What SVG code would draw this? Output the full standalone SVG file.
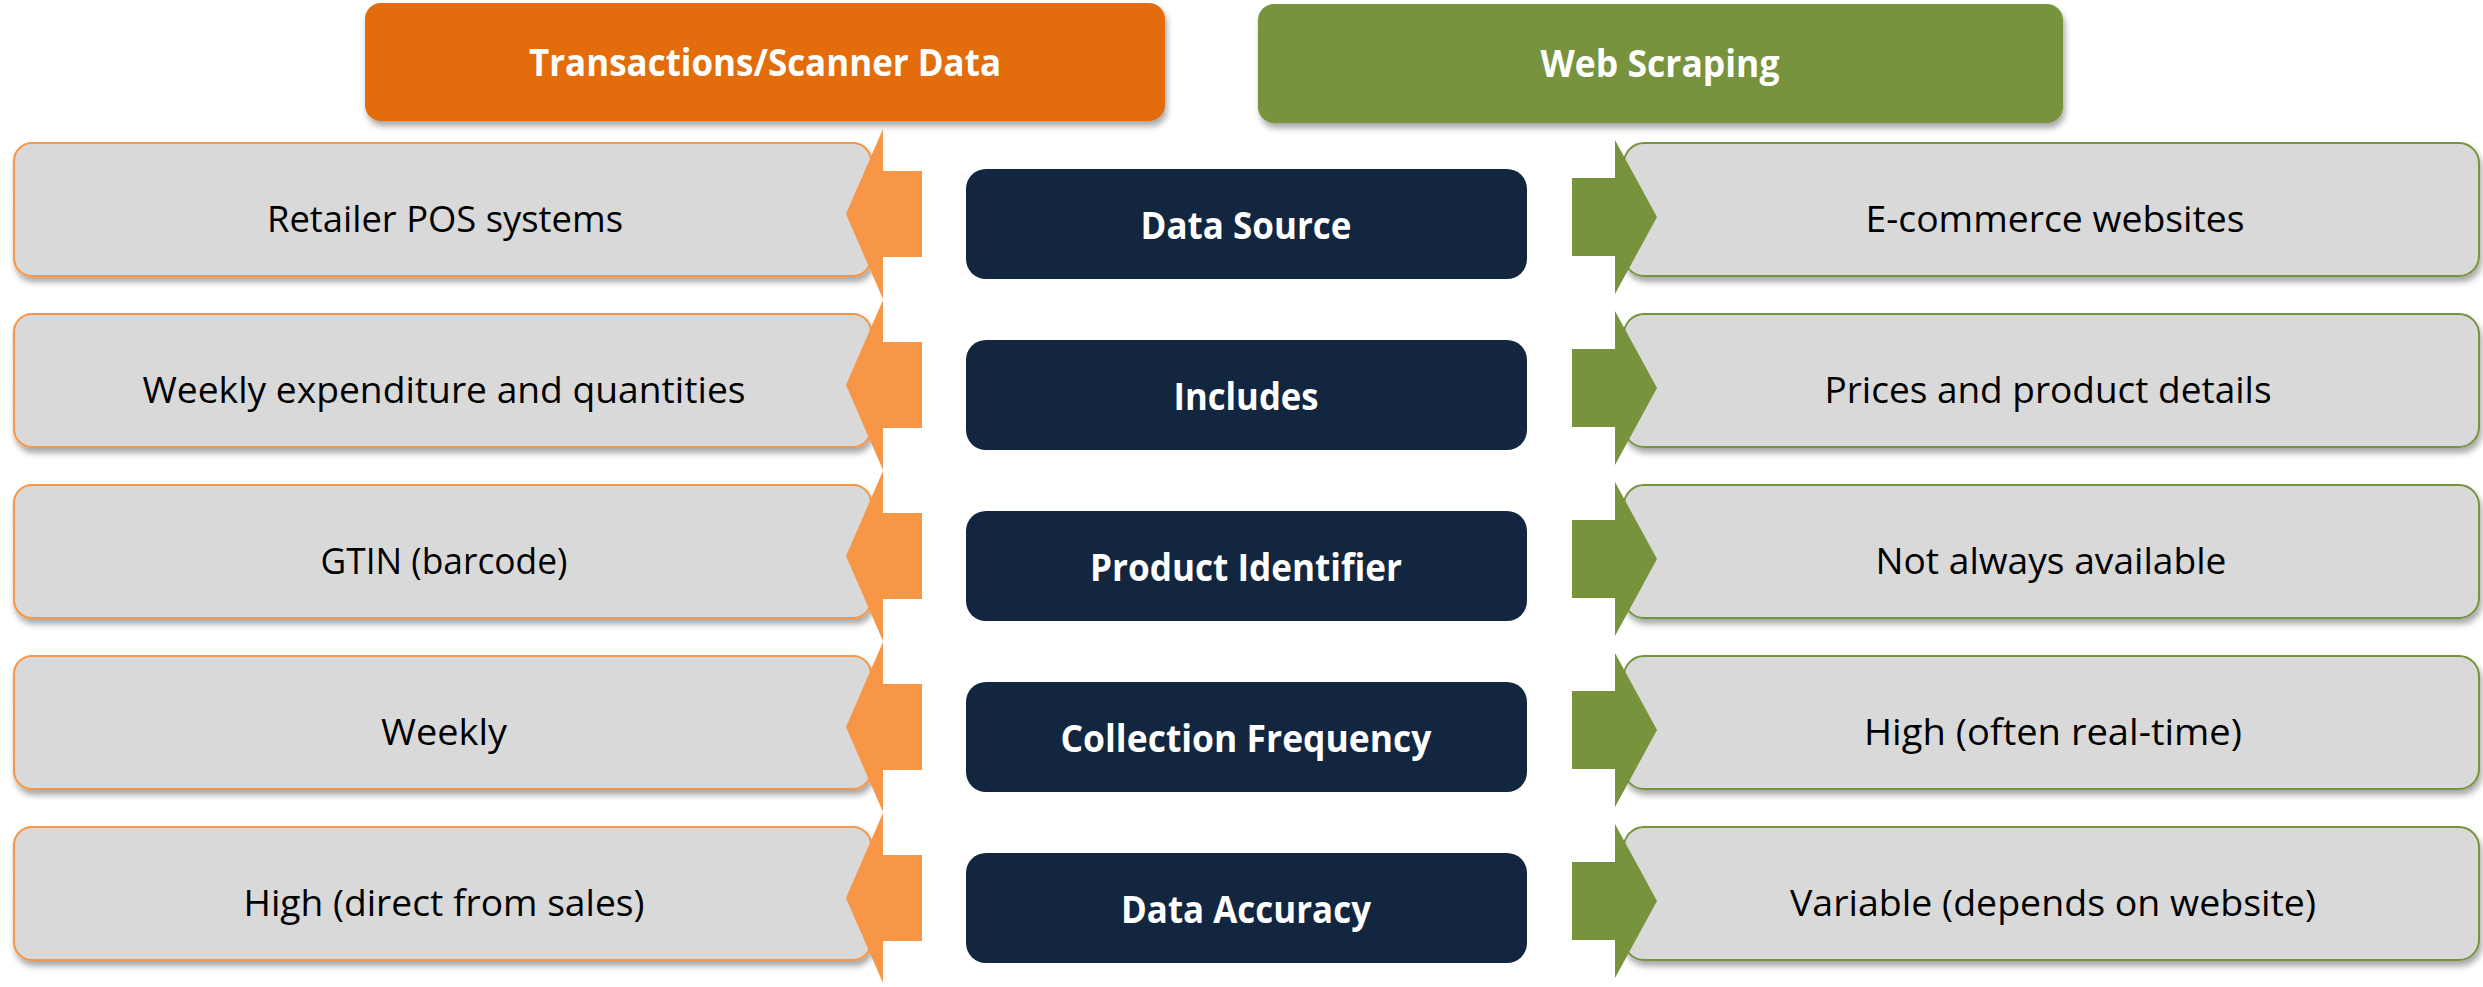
<svg xmlns="http://www.w3.org/2000/svg" width="2483" height="987" viewBox="0 0 2483 987">
<defs>
<filter id="sh" x="-5%" y="-10%" width="110%" height="130%">
<feGaussianBlur in="SourceAlpha" stdDeviation="3"/>
<feOffset dx="2" dy="5" result="b"/>
<feComponentTransfer><feFuncA type="linear" slope="0.35"/></feComponentTransfer>
<feMerge><feMergeNode/><feMergeNode in="SourceGraphic"/></feMerge>
</filter>
<style>
.t{font-family:"Open Sans","Noto Sans","Liberation Sans",sans-serif;font-size:36px;text-anchor:middle;}
.g{fill:#000;}
.w{fill:#fff;font-weight:bold;font-size:37px;}
.lb{fill:#D9D9D9;stroke:#F79646;stroke-width:2;}
.rb{fill:#D9D9D9;stroke:#77933C;stroke-width:2;}
.nv{fill:#13263F;}
.oa{fill:#F79646;}
.ga{fill:#77933C;}
</style>
</defs>
<rect width="2483" height="987" fill="#fff"/>

<g id="header-transactions">
<rect x="365" y="3" width="800" height="118" rx="16" fill="#E36C09" filter="url(#sh)"/>
<text class="t w" x="765" y="76" textLength="472" lengthAdjust="spacingAndGlyphs">Transactions/Scanner Data</text>
</g>
<g id="header-webscraping">
<rect x="1258" y="4" width="805" height="119" rx="16" fill="#77933C" filter="url(#sh)"/>
<text class="t w" x="1660" y="77" textLength="239" lengthAdjust="spacingAndGlyphs">Web Scraping</text>
</g>

<g id="left-1"><rect class="lb" x="14" y="143" width="857" height="133" rx="18" filter="url(#sh)"/>
<text class="t g" x="445" y="232" textLength="356" lengthAdjust="spacingAndGlyphs">Retailer POS systems</text></g>
<g id="left-2"><rect class="lb" x="14" y="314" width="857" height="133" rx="18" filter="url(#sh)"/>
<text class="t g" x="444" y="403" textLength="603" lengthAdjust="spacingAndGlyphs">Weekly expenditure and quantities</text></g>
<g id="left-3"><rect class="lb" x="14" y="485" width="857" height="133" rx="18" filter="url(#sh)"/>
<text class="t g" x="444" y="574" textLength="247" lengthAdjust="spacingAndGlyphs">GTIN (barcode)</text></g>
<g id="left-4"><rect class="lb" x="14" y="656" width="857" height="133" rx="18" filter="url(#sh)"/>
<text class="t g" x="444" y="745" textLength="126" lengthAdjust="spacingAndGlyphs">Weekly</text></g>
<g id="left-5"><rect class="lb" x="14" y="827" width="857" height="133" rx="18" filter="url(#sh)"/>
<text class="t g" x="444" y="916" textLength="401" lengthAdjust="spacingAndGlyphs">High (direct from sales)</text></g>

<g id="right-1"><rect class="rb" x="1624" y="143" width="855" height="133" rx="20" filter="url(#sh)"/>
<text class="t g" x="2055" y="232" textLength="379" lengthAdjust="spacingAndGlyphs">E-commerce websites</text></g>
<g id="right-2"><rect class="rb" x="1624" y="314" width="855" height="133" rx="20" filter="url(#sh)"/>
<text class="t g" x="2048" y="403" textLength="447" lengthAdjust="spacingAndGlyphs">Prices and product details</text></g>
<g id="right-3"><rect class="rb" x="1624" y="485" width="855" height="133" rx="20" filter="url(#sh)"/>
<text class="t g" x="2051" y="574" textLength="351" lengthAdjust="spacingAndGlyphs">Not always available</text></g>
<g id="right-4"><rect class="rb" x="1624" y="656" width="855" height="133" rx="20" filter="url(#sh)"/>
<text class="t g" x="2053" y="745" textLength="378" lengthAdjust="spacingAndGlyphs">High (often real-time)</text></g>
<g id="right-5"><rect class="rb" x="1624" y="827" width="855" height="133" rx="20" filter="url(#sh)"/>
<text class="t g" x="2053" y="916" textLength="526" lengthAdjust="spacingAndGlyphs">Variable (depends on website)</text></g>

<g id="mid-1"><rect class="nv" x="966" y="169" width="561" height="110" rx="20"/>
<text class="t w" x="1246" y="239" textLength="211" lengthAdjust="spacingAndGlyphs">Data Source</text></g>
<g id="mid-2"><rect class="nv" x="966" y="340" width="561" height="110" rx="20"/>
<text class="t w" x="1246" y="410" textLength="145" lengthAdjust="spacingAndGlyphs">Includes</text></g>
<g id="mid-3"><rect class="nv" x="966" y="511" width="561" height="110" rx="20"/>
<text class="t w" x="1246" y="581" textLength="312" lengthAdjust="spacingAndGlyphs">Product Identifier</text></g>
<g id="mid-4"><rect class="nv" x="966" y="682" width="561" height="110" rx="20"/>
<text class="t w" x="1246" y="752" textLength="371" lengthAdjust="spacingAndGlyphs">Collection Frequency</text></g>
<g id="mid-5"><rect class="nv" x="966" y="853" width="561" height="110" rx="20"/>
<text class="t w" x="1246" y="923" textLength="250" lengthAdjust="spacingAndGlyphs">Data Accuracy</text></g>

<g id="connectors">
<polygon class="oa" points="922,171 883,171 883,129 846,214 883,299 883,257 922,257"/>
<polygon class="oa" points="922,342 883,342 883,300 846,385 883,470 883,428 922,428"/>
<polygon class="oa" points="922,513 883,513 883,471 846,556 883,641 883,599 922,599"/>
<polygon class="oa" points="922,684 883,684 883,642 846,727 883,812 883,770 922,770"/>
<polygon class="oa" points="922,855 883,855 883,813 846,898 883,983 883,941 922,941"/>
<polygon class="ga" points="1572,178 1615,178 1615,140 1657,217 1615,294 1615,256 1572,256"/>
<polygon class="ga" points="1572,349 1615,349 1615,311 1657,388 1615,465 1615,427 1572,427"/>
<polygon class="ga" points="1572,520 1615,520 1615,482 1657,559 1615,636 1615,598 1572,598"/>
<polygon class="ga" points="1572,691 1615,691 1615,653 1657,730 1615,807 1615,769 1572,769"/>
<polygon class="ga" points="1572,862 1615,862 1615,824 1657,901 1615,978 1615,940 1572,940"/>
</g>
</svg>
